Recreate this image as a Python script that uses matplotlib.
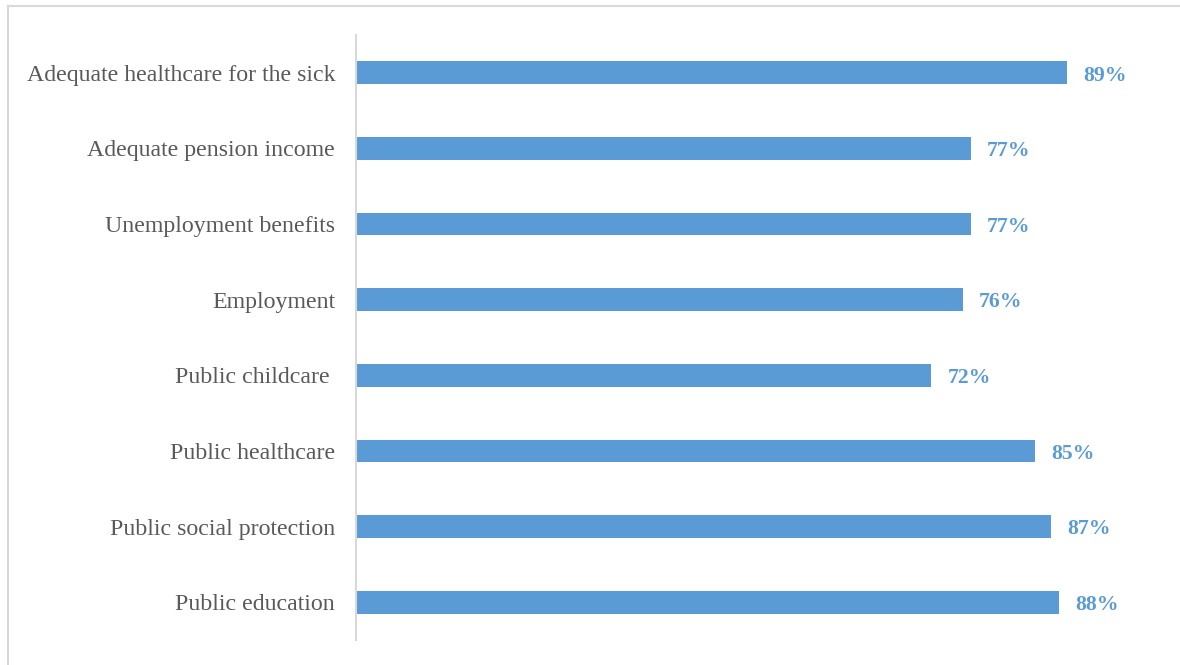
import matplotlib
matplotlib.use("Agg")
import matplotlib.pyplot as plt
from matplotlib.lines import Line2D

categories = [
    "Adequate healthcare for the sick",
    "Adequate pension income",
    "Unemployment benefits",
    "Employment",
    "Public childcare ",
    "Public healthcare",
    "Public social protection",
    "Public education",
]
values = [89, 77, 77, 76, 72, 85, 87, 88]
value_labels = [f"{v}%" for v in values]

BAR = "#5B9BD5"
TEXT = "#595959"
GRID = "#D9D9D9"

plt.rcParams["font.family"] = ["Liberation Serif", "DejaVu Serif"]

W, H = 1180, 665
fig = plt.figure(figsize=(W / 100, H / 100), dpi=100)
ax = fig.add_axes([356 / W, 1 - 640 / H, (1155 - 356) / W, (640 - 35) / H])

ypos = list(range(len(categories)))
ax.barh(ypos, values, height=0.30, color=BAR, zorder=2)
ax.set_xlim(0, 100)
ax.set_ylim(len(categories) - 0.5, -0.5)
ax.set_yticks(ypos)
ax.set_yticklabels(categories, fontsize=17.2, color=TEXT)
ax.tick_params(axis="y", length=0, pad=15)
ax.set_xticks([])

for s in ["top", "right", "bottom"]:
    ax.spines[s].set_visible(False)
ax.spines["left"].set_color(GRID)
ax.spines["left"].set_linewidth(1.5)

for y, v, lab in zip(ypos, values, value_labels):
    ax.annotate(lab, (v, y), xytext=(11.5, -2), textcoords="offset points",
                ha="left", va="center", fontsize=15.7, fontweight="bold",
                color=BAR)

# chart frame edges (top and left)
fig.add_artist(Line2D([7.5 / W, 1.0], [1 - 5.5 / H, 1 - 5.5 / H],
                      transform=fig.transFigure, color=GRID, lw=1.5))
fig.add_artist(Line2D([7.5 / W, 7.5 / W], [0.0, 1 - 5.5 / H],
                      transform=fig.transFigure, color=GRID, lw=1.5))

fig.savefig("out.png", dpi=100)
